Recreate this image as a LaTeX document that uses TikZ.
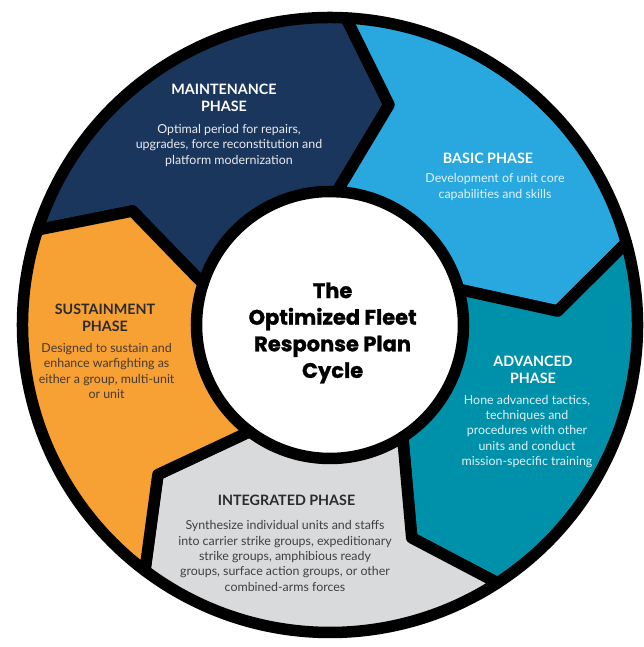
\documentclass[tikz,border=0pt]{standalone}
\usepackage{fontspec}
\setmainfont{Lato}
\newfontfamily\titlefont{Poppins}[BoldFeatures={FakeBold=1.2}]
\definecolor{navy}{RGB}{27,54,93}
\definecolor{skyblue}{RGB}{41,168,224}
\definecolor{teal}{RGB}{0,145,170}
\definecolor{lightgrey}{RGB}{217,218,220}
\definecolor{amber}{RGB}{247,160,52}
\definecolor{darktext}{RGB}{43,43,43}
\definecolor{browntext}{RGB}{70,58,46}
\begin{document}
\begin{tikzpicture}[x=1pt,y=1pt,
  seg/.style={draw=black, line width=11.5pt, line join=round},
  head/.style={font=\fontsize{14.3}{17}\selectfont\bfseries, align=center, inner sep=0pt},
  body/.style={font=\fontsize{12.4}{15.3}\selectfont, align=center, inner sep=0pt},
  title/.style={font=\titlefont\fontsize{21}{26.6}\selectfont\bfseries, align=center, inner sep=0pt}]
\fill[white] (0,0) rectangle (643,647);
\useasboundingbox (0,0) rectangle (643,647);
\coordinate (C) at (330,322);
\def\Rout{307.5pt}
\def\Rin{133.5pt}
\def\Rmid{228pt}
% one chevron-shaped piece of the ring, running clockwise from angle #2 to angle #3
\newcommand{\ringpiece}[3]{%
  \pgfmathsetmacro\tipend{#3-12}%
  \pgfmathsetmacro\tipstart{#2-12}%
  \draw[seg, fill=#1] ([shift={(C)}]#2:\Rout) arc[start angle=#2, end angle=#3, radius=\Rout]
    -- ([shift={(C)}]\tipend:\Rmid) -- ([shift={(C)}]#3:\Rin)
    arc[start angle=#3, end angle=#2, radius=\Rin]
    -- ([shift={(C)}]\tipstart:\Rmid) -- cycle;}
\ringpiece{navy}{162}{87}
\ringpiece{skyblue}{87}{15.5}
\ringpiece{teal}{15.5}{-57}
\ringpiece{lightgrey}{-57}{-127}
\ringpiece{amber}{-127}{-198}

\node[title] (ttl) at (332.6,314) {The\\Optimized Fleet\\Response Plan\\Cycle};

\node[head, text=white] (mh) at (224,549.5) {MAINTENANCE\\PHASE};
\node[body, text=white!90!navy] (mb) at (229,501.5) {Optimal period for repairs,\\upgrades, force reconstitution and\\platform modernization};

\node[head, text=white] (bh) at (488,489) {BASIC PHASE};
\node[body, text=white!85!skyblue] (bb) at (495,460) {Development of unit core\\capabilities and skills};

\node[head, text=white] (ah) at (533,277) {ADVANCED\\PHASE};
\node[body, text=white!88!teal] (ab) at (527,215.5) {Hone advanced tactics,\\techniques and\\procedures with other\\units and conduct\\mission-specific training};

\node[head, text=darktext] (ih) at (286.5,147) {INTEGRATED PHASE};
\node[body, text=darktext!90!white] (ib) at (285,91) {Synthesize individual units and staffs\\into carrier strike groups, expeditionary\\strike groups, amphibious ready\\groups, surface action groups, or other\\combined-arms forces};

\node[head, text=darktext] (sh) at (105,329.5) {SUSTAINMENT\\PHASE};
\node[body, text=browntext] (sb) at (106.6,276) {Designed to sustain and\\enhance warfighting as\\either a group, multi-unit\\or unit};
\end{tikzpicture}
\end{document}
